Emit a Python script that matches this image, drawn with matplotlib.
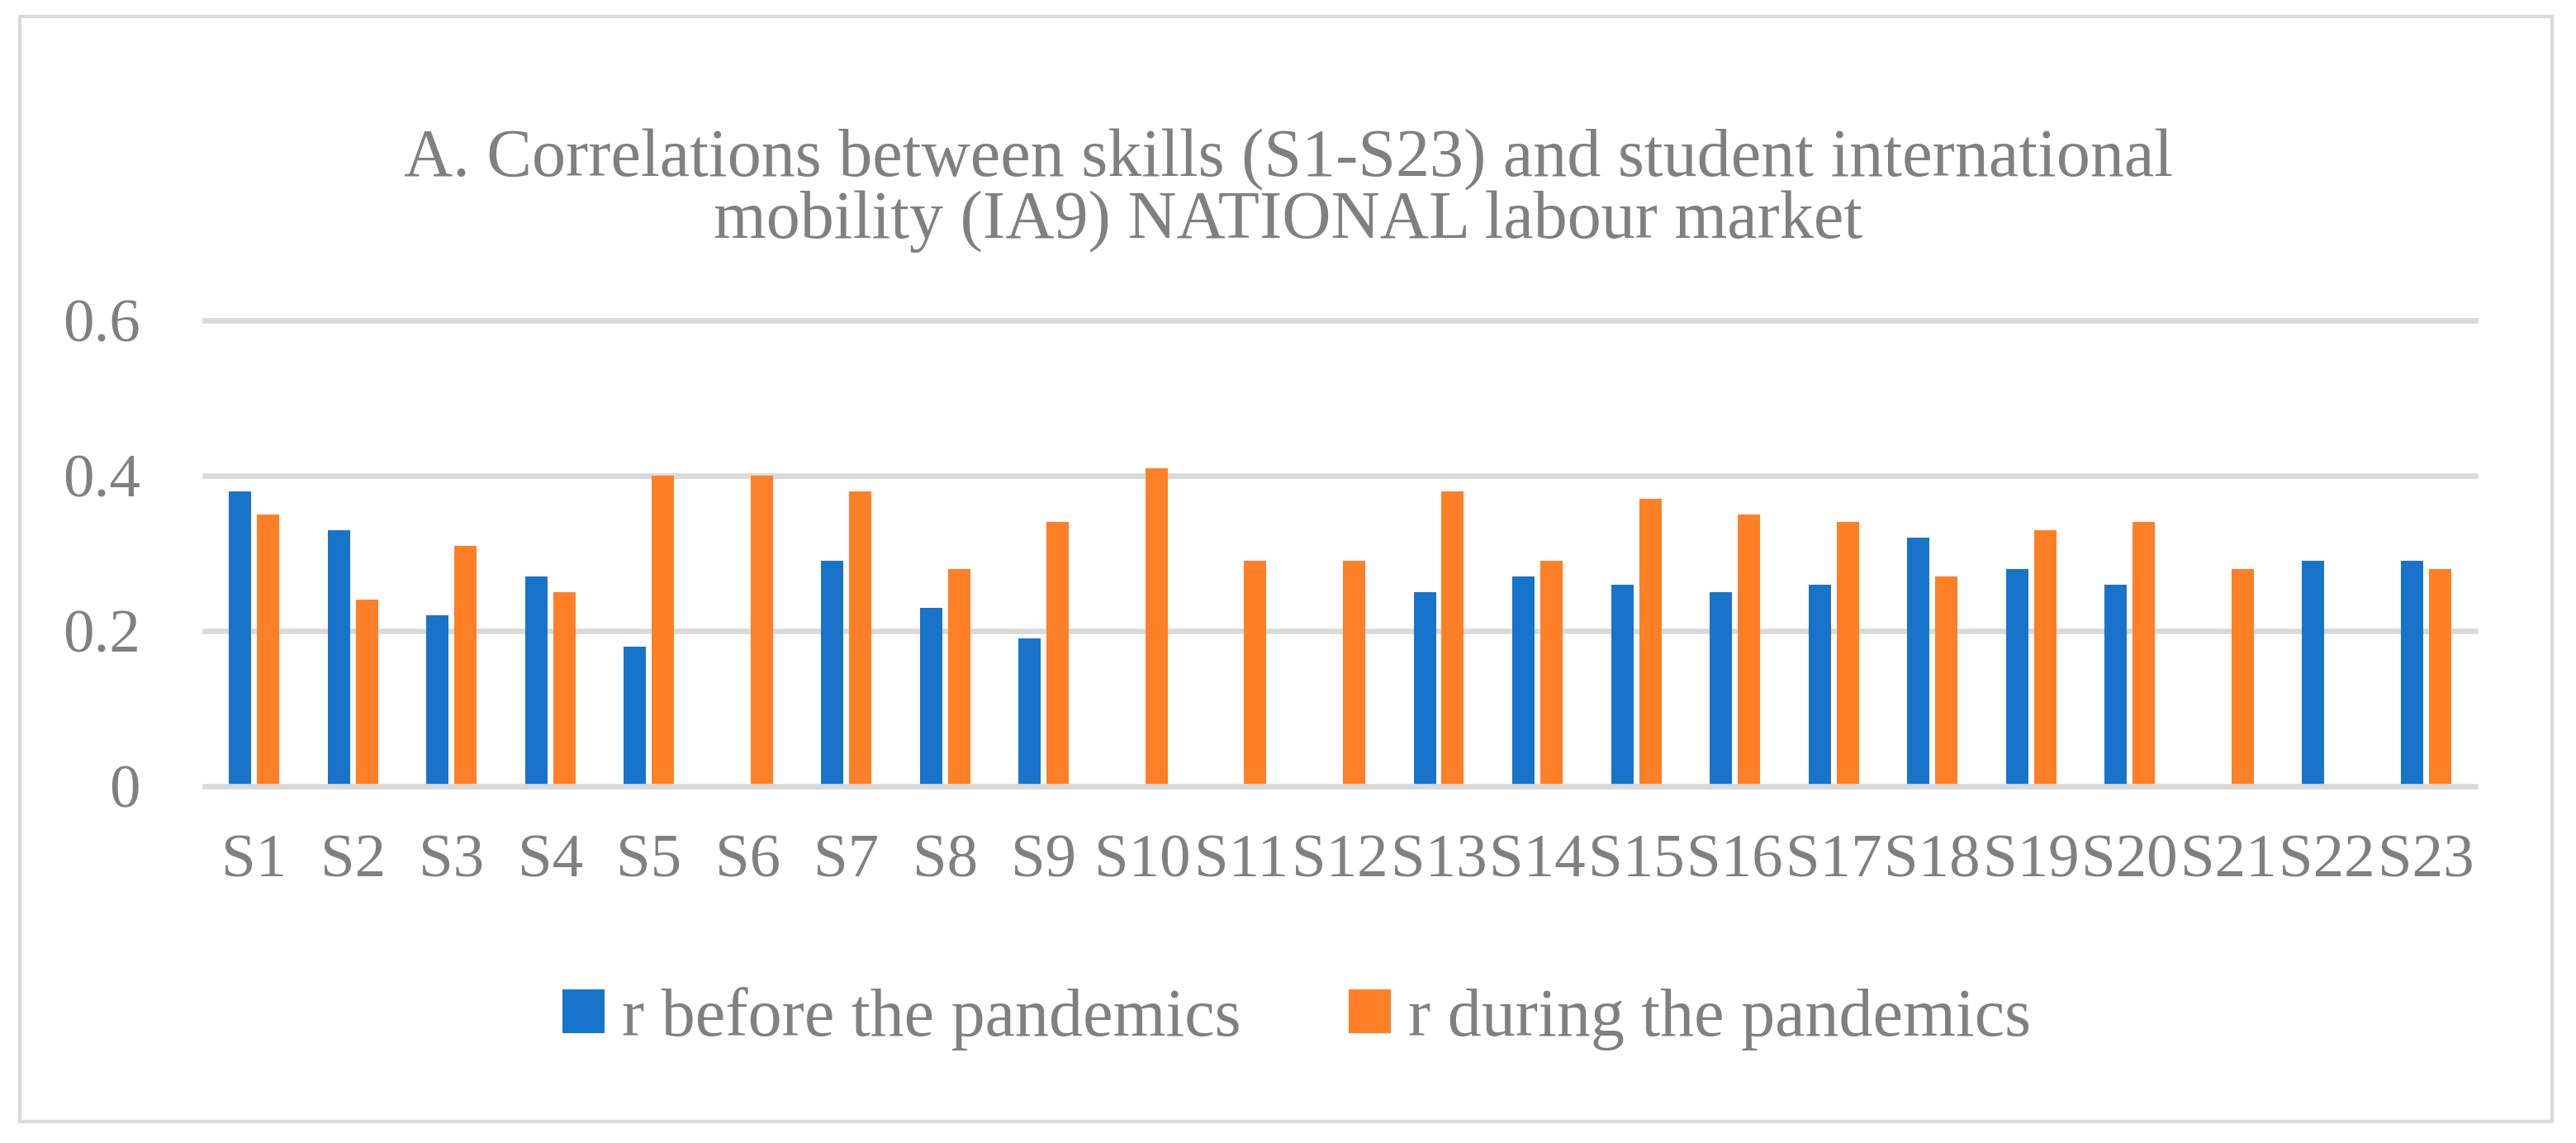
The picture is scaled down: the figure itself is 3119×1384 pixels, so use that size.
import matplotlib.pyplot as plt
import matplotlib.patches as patches
import numpy as np

plt.rcParams['font.family'] = ['Liberation Serif', 'DejaVu Serif']

skills = ['S1', 'S2', 'S3', 'S4', 'S5', 'S6', 'S7', 'S8', 'S9', 'S10', 'S11', 'S12',
          'S13', 'S14', 'S15', 'S16', 'S17', 'S18', 'S19', 'S20', 'S21', 'S22', 'S23']
# None = no bar shown
r_before = [0.38, 0.33, 0.22, 0.27, 0.18, None, 0.29, 0.23, 0.19, None, None, None,
            0.25, 0.27, 0.26, 0.25, 0.26, 0.32, 0.28, 0.26, None, 0.29, 0.29]
r_during = [0.35, 0.24, 0.31, 0.25, 0.40, 0.40, 0.38, 0.28, 0.34, 0.41, 0.29, 0.29,
            0.38, 0.29, 0.37, 0.35, 0.34, 0.27, 0.33, 0.34, 0.28, None, 0.28]
yticks = [0, 0.2, 0.4, 0.6]
ytick_labels = ['0', '0.2', '0.4', '0.6']

title = ('A. Correlations between skills (S1-S23) and student international\n'
         'mobility (IA9) NATIONAL labour market')

blue = '#1874CA'
orange = '#FF7F27'
grey_txt = '#808080'
grid_c = '#D9D9D9'
fs = 54

W, H = 3119, 1384
fig = plt.figure(figsize=(W / 100, H / 100), dpi=100)
ax = fig.add_axes([248 / W, (H - 952) / H, (2997 - 248) / W, (952 - 388) / H])

x = np.arange(len(skills))
bw = 0.226
off = 0.142
b = np.array([np.nan if v is None else v for v in r_before], dtype=float)
d = np.array([np.nan if v is None else v for v in r_during], dtype=float)
ax.bar(x - off, b, bw, color=blue, label='r before the pandemics', zorder=3)
ax.bar(x + off, d, bw, color=orange, label='r during the pandemics', zorder=3)

ax.set_xlim(-0.5, len(skills) - 0.5)
ax.set_ylim(0, 0.6)
for yv in yticks:
    ax.axhline(yv, color=grid_c, lw=4.8, zorder=4 if yv == 0 else 1, clip_on=False)

for s in ax.spines.values():
    s.set_visible(False)
ax.set_yticks(yticks)
ax.set_yticklabels(ytick_labels)
ax.set_xticks(x)
ax.set_xticklabels(skills)
ax.tick_params(axis='both', length=0, labelsize=fs, labelcolor=grey_txt)
ax.tick_params(axis='y', pad=78 / 100 * 72)
ax.tick_params(axis='x', pad=42)

fig.text(1560 / W, 1 - 231 / H, title, ha='center', va='center', fontsize=59,
         color=grey_txt, linespacing=0.98)

fig.legend(loc='center', bbox_to_anchor=(1570 / W, 1 - 1233 / H), ncol=2, frameon=False,
           fontsize=59, labelcolor=grey_txt, handlelength=0.62, handleheight=0.62,
           handletextpad=0.25, columnspacing=1.6)

frame = patches.Rectangle((24 / W, 1 - 1358 / H), (3090 - 24) / W, (1358 - 20) / H,
                          transform=fig.transFigure, fill=False, edgecolor=grid_c, lw=3)
fig.patches.append(frame)

fig.savefig('out.png', dpi=100, facecolor='white')
